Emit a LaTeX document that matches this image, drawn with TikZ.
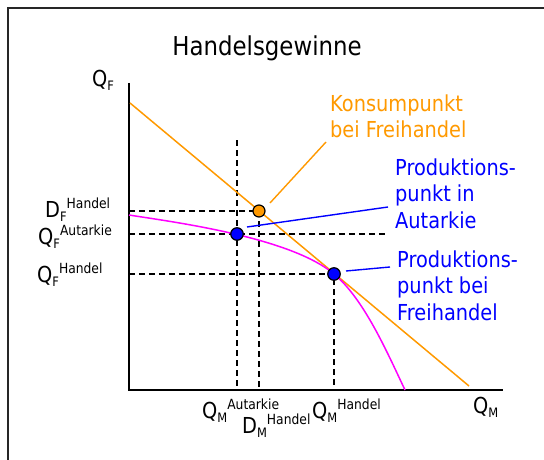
\documentclass[tikz,border=0pt]{standalone}
\usepackage{fontspec}
\setmainfont[FakeStretch=0.88]{DejaVu Sans}
\definecolor{myorange}{RGB}{255,153,0}
\definecolor{mymagenta}{RGB}{255,0,255}
\definecolor{myblue}{RGB}{0,0,255}
\newcommand\smallfnt{\fontsize{14}{14}\selectfont}
\newcommand\subfnt{\fontsize{13}{13}\selectfont}
\newcommand\lblss[3]{#1\raisebox{-4pt}{\subfnt #2}\raisebox{9pt}{\smallfnt #3}}
\begin{document}
\begin{tikzpicture}[x=1pt,y=-1pt,
  txt/.style={inner sep=0pt,anchor=base west,font=\fontsize{22}{26.5}\selectfont,align=left},
  dashline/.style={black,line width=1.5pt,dash pattern=on 6pt off 4pt},
  dotnode/.style={circle,draw=black,line width=1.2pt,minimum size=12.5pt,inner sep=0pt},
  callout/.style={line width=1.4pt}]
\useasboundingbox (0,0) rectangle (544,460);
\draw[black!85,line width=1.6pt] (8,8) rectangle (600,520);
% coordinates
\coordinate (O) at (129,390);
\coordinate (ytop) at (129,83);
\coordinate (xend) at (503,390);
\coordinate (vtop) at (237,140);
\coordinate (hend) at (387,234);
\coordinate (bl1) at (130,103);
\coordinate (bl2) at (469,386);
% title
\node[inner sep=0pt,anchor=base,font=\fontsize{26}{26}\selectfont] (title) at (267,56) {Handelsgewinne};
% dots positions
\coordinate (Cc) at (259,211);
\coordinate (Ac) at (237,234);
\coordinate (Pc) at (334,274);
% dashed lines
\draw[dashline] (O |- Cc) -- (Cc) -- (Cc |- O);
\draw[dashline] (O |- Ac) -- (hend);
\draw[dashline] (vtop) -- (vtop |- O);
\draw[dashline] (O |- Pc) -- (Pc) -- (Pc |- O);
% axes
\draw[line width=1.5pt] (ytop) -- (O) -- (xend);
% budget line
\draw[myorange,line width=1.5pt] (bl1) -- (bl2);
% PPF
\draw[mymagenta,line width=1.5pt] (129,215) .. controls (173,222) and (290,237) .. (Pc)
   .. controls (364,299) and (387,352) .. (405,390);
% dots
\node[dotnode,fill=myorange,minimum size=12pt] (C) at (Cc) {};
\node[dotnode,fill=myblue] (A) at (Ac) {};
\node[dotnode,fill=myblue] (P) at (Pc) {};
% texts (anchor at baseline of last line)
\node[txt,text=myorange] (kons) at (330,138) {Konsumpunkt\\bei Freihandel};
\node[txt,text=myblue] (paut) at (395,228) {Produktions-\\punkt in\\Autarkie};
\node[txt,text=myblue] (pfrei) at (397,320) {Produktions-\\punkt bei\\Freihandel};
\coordinate (kend) at (326,142);
\coordinate (aend) at (388,207);
\coordinate (pend) at (390,267);
\draw[myorange,callout] ([shift={(11,-8)}]C.center) -- (kend);
\draw[myblue,callout] ([shift={(10,-7)}]A.center) -- (aend);
\draw[myblue,callout] ([shift={(12,-3)}]P.center) -- (pend);
% axis labels
\node[txt] (qf) at (92,87) {Q\raisebox{-4pt}{\subfnt F}};
\node[txt] (qm) at (473,413) {Q\raisebox{-4pt}{\subfnt M}};
\node[txt] (dfh) at (45,217) {\lblss{D}{F}{Handel}};
\node[txt] (qfa) at (38,244) {\lblss{Q}{F}{Autarkie}};
\node[txt] (qfh) at (37,282) {\lblss{Q}{F}{Handel}};
\node[txt] (qma) at (202,418) {\lblss{Q}{M}{Autarkie}};
\node[txt] (dmh) at (242,433) {\lblss{D}{M}{Handel}};
\node[txt] (qmh) at (312,418) {\lblss{Q}{M}{Handel}};
\end{tikzpicture}
\end{document}
